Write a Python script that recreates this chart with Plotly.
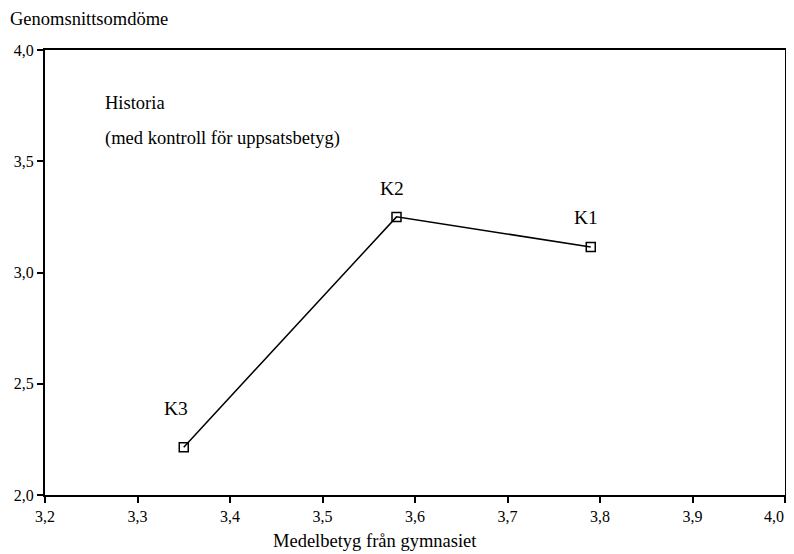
import plotly.graph_objects as go

# Data
groups = ['K3', 'K2', 'K1']
medelbetyg = [3.35, 3.58, 3.79]
omdome = [2.215, 3.25, 3.115]

x_ticks = [3.2, 3.3, 3.4, 3.5, 3.6, 3.7, 3.8, 3.9, 4.0]
y_ticks = [2.0, 2.5, 3.0, 3.5, 4.0]

# label offsets in pixels (dx, dy) relative to each point
label_offsets = [(-8, 39), (-5, 28), (-5, 29)]

FONT = "Liberation Serif, Times New Roman, serif"

# page body has an 8px margin, so the figure is placed 8px in
OX, OY = 8, 8
W, H = 794 - 2 * OX, 554 - OY
L, T = 45 - OX, 50 - OY
R = W - (785 - OX)
B = H - (495 - OY)
PW, PH = W - L - R, H - T - B


def px_x(x):
    return (x - OX - L) / PW


def px_y(y):
    return (H - B - (y - OY)) / PH


def fmt(v):
    return f"{v:.1f}".replace('.', ',')


fig = go.Figure()

fig.add_trace(go.Scatter(
    x=medelbetyg,
    y=omdome,
    mode='lines+markers',
    line=dict(color='black', width=1.5),
    marker=dict(symbol='square-open', size=9, color='black', line=dict(width=1.5)),
    showlegend=False,
    cliponaxis=False,
))

axis_common = dict(
    showgrid=False, zeroline=False, showline=True, linecolor='black', linewidth=2,
    mirror=True, ticks='outside', ticklen=6, tickwidth=1.5, tickcolor='black',
    tickfont=dict(family=FONT, size=16, color='black'), automargin=False,
    ticklabeloverflow='allow',
)

# last x label would be clipped at the page edge, so it is drawn as an annotation
x_ticktext = [fmt(v) for v in x_ticks[:-1]] + ['']

fig.update_layout(
    width=W, height=H,
    paper_bgcolor='white', plot_bgcolor='white',
    separators=', ',
    margin=dict(l=L, r=R, t=T, b=B),
    font=dict(family=FONT, color='black'),
    xaxis=dict(range=[3.2, 4.0], tickvals=x_ticks, ticktext=x_ticktext, **axis_common),
    yaxis=dict(range=[2.0, 4.0], tickvals=y_ticks, ticktext=[fmt(v) for v in y_ticks], **axis_common),
)

fig.add_annotation(x=x_ticks[-1], y=px_y(516), xref='x', yref='paper', text=fmt(x_ticks[-1]),
                   showarrow=False, xanchor='right', yanchor='middle', xshift=1,
                   font=dict(family=FONT, size=16, color='black'))

# Group labels above each point
for g, xv, yv, (dx, dy) in zip(groups, medelbetyg, omdome, label_offsets):
    fig.add_annotation(
        x=xv, y=yv, text=g, showarrow=False, yshift=dy, xshift=dx,
        font=dict(family=FONT, size=19.5, color='black'),
    )

text_font = dict(family=FONT, size=18.5, color='black')
fig.add_annotation(x=px_x(103), y=px_y(103), xref='paper', yref='paper', text='Historia',
                   showarrow=False, xanchor='left', yanchor='middle', font=text_font)
fig.add_annotation(x=px_x(103), y=px_y(138), xref='paper', yref='paper',
                   text='(med kontroll för uppsatsbetyg)',
                   showarrow=False, xanchor='left', yanchor='middle', font=text_font)
fig.add_annotation(x=px_x(8), y=px_y(19), xref='paper', yref='paper', text='Genomsnittsomdöme',
                   showarrow=False, xanchor='left', yanchor='middle', font=text_font)
fig.add_annotation(x=px_x(375), y=px_y(541), xref='paper', yref='paper',
                   text='Medelbetyg från gymnasiet',
                   showarrow=False, xanchor='center', yanchor='middle', font=text_font)

fig.write_html("out.html")
